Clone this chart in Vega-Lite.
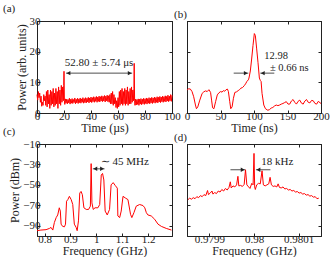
{
"$schema": "https://vega.github.io/schema/vega-lite/v6.json",
"padding": {"left": 2, "top": 2, "right": 0, "bottom": 0},
"config": {
 "font": "Liberation Serif",
 "view": {"stroke": "#222", "strokeWidth": 1},
 "axis": {"domainColor": "#222", "tickColor": "#222", "tickSize": -3, "labelFont": "Liberation Serif", "titleFont": "Liberation Serif", "labelFontSize": 11, "labelColor": "#222", "titleFontSize": 12, "titleFontWeight": "normal", "titleColor": "#222", "grid": false, "labelFlush": false, "labelOverlap": false, "titlePadding": 1},
 "axisX": {"labelPadding": 0},
 "axisY": {"labelPadding": 0, "titlePadding": 1},
 "title": {"font": "Liberation Serif", "fontSize": 11, "fontWeight": "normal", "anchor": "start", "frame": "group", "offset": 1, "color": "#222"},
 "text": {"font": "Liberation Serif", "color": "#222", "fontSize": 11}
},
"datasets": {
 "a": [
{"t":0,"v":6},{"t":0.5,"v":4.2},{"t":1,"v":7},{"t":1.5,"v":5},{"t":2,"v":6.5},{"t":2.5,"v":3.5},{"t":3,"v":5.5},{"t":3.5,"v":2.2},{"t":4,"v":3.5},{"t":4.5,"v":2.5},{"t":5,"v":6},{"t":5.5,"v":4},{"t":6,"v":5.5},{"t":6.5,"v":2.5},{"t":7,"v":7},{"t":7.5,"v":2},{"t":8,"v":7.5},{"t":8.5,"v":3},{"t":9,"v":6},{"t":9.5,"v":1.5},{"t":10,"v":7.5},{"t":10.5,"v":2.5},{"t":11,"v":7},{"t":11.5,"v":3},{"t":12,"v":8},{"t":12.5,"v":2},{"t":13,"v":6.5},{"t":13.5,"v":2.5},{"t":14,"v":8},{"t":14.5,"v":3},{"t":15,"v":7},{"t":15.5,"v":1.5},{"t":16,"v":8.5},{"t":16.5,"v":3},{"t":17,"v":7.5},{"t":17.5,"v":2.5},{"t":18,"v":9},{"t":18.5,"v":3.5},{"t":19,"v":8.5},{"t":19.5,"v":4},{"t":19.8,"v":9},{"t":20,"v":13.6},{"t":20.3,"v":4},{"t":20.6,"v":2.8},{"t":21,"v":4.6},{"t":21.5,"v":3.2},{"t":22,"v":4.5},{"t":22.5,"v":3},{"t":23,"v":4.4},{"t":23.5,"v":3.3},{"t":24,"v":4.8},{"t":24.5,"v":2.9},{"t":25,"v":4.5},{"t":25.5,"v":3.2},{"t":26,"v":4.7},{"t":26.5,"v":3.1},{"t":27,"v":4.4},{"t":27.5,"v":3.4},{"t":28,"v":4.9},{"t":28.5,"v":3},{"t":29,"v":4.5},{"t":29.5,"v":3.3},{"t":30,"v":4.8},{"t":30.5,"v":3.1},{"t":31,"v":4.6},{"t":31.5,"v":3.4},{"t":32,"v":4.9},{"t":32.5,"v":3.2},{"t":33,"v":4.6},{"t":33.5,"v":3.5},{"t":34,"v":5},{"t":34.5,"v":3.2},{"t":35,"v":4.7},{"t":35.5,"v":3.4},{"t":36,"v":5},{"t":36.5,"v":3.3},{"t":37,"v":4.8},{"t":37.5,"v":3.6},{"t":38,"v":5.1},{"t":38.5,"v":3.3},{"t":39,"v":4.9},{"t":39.5,"v":3.6},{"t":40,"v":5.2},{"t":40.5,"v":3.4},{"t":41,"v":5},{"t":41.5,"v":3.7},{"t":42,"v":5.3},{"t":42.5,"v":3.5},{"t":43,"v":5.1},{"t":43.5,"v":3.8},{"t":44,"v":5.4},{"t":44.5,"v":3.5},{"t":45,"v":5.2},{"t":45.5,"v":3.8},{"t":46,"v":5.5},{"t":46.5,"v":3.6},{"t":47,"v":5.3},{"t":47.5,"v":3.9},{"t":48,"v":5.6},{"t":48.5,"v":3.7},{"t":49,"v":5.4},{"t":49.5,"v":3.9},{"t":50,"v":5.7},{"t":50.5,"v":3.6},{"t":51,"v":5.5},{"t":51.5,"v":4},{"t":52,"v":5.8},{"t":52.5,"v":3.7},{"t":53,"v":5.6},{"t":53.5,"v":3.5},{"t":54,"v":6},{"t":54.5,"v":3},{"t":55,"v":6.5},{"t":55.5,"v":3},{"t":56,"v":7},{"t":56.5,"v":2.5},{"t":57,"v":6},{"t":57.5,"v":3},{"t":58,"v":5},{"t":58.5,"v":1.8},{"t":59,"v":4},{"t":59.5,"v":1.5},{"t":60,"v":5},{"t":60.5,"v":2},{"t":61,"v":7},{"t":61.5,"v":2.5},{"t":62,"v":7.5},{"t":62.5,"v":3},{"t":63,"v":8},{"t":63.5,"v":2.5},{"t":64,"v":7},{"t":64.5,"v":3},{"t":65,"v":8},{"t":65.5,"v":2.5},{"t":66,"v":7.5},{"t":66.5,"v":3},{"t":67,"v":8.5},{"t":67.5,"v":2.5},{"t":68,"v":7},{"t":68.5,"v":3},{"t":69,"v":8},{"t":69.5,"v":3},{"t":70,"v":8.5},{"t":70.5,"v":3.5},{"t":71,"v":7.5},{"t":71.5,"v":4},{"t":71.8,"v":8},{"t":72,"v":16.2},{"t":72.3,"v":4},{"t":72.6,"v":2.5},{"t":73,"v":4.5},{"t":73.5,"v":2.6},{"t":74,"v":4.4},{"t":74.5,"v":2.8},{"t":75,"v":4.6},{"t":75.5,"v":2.5},{"t":76,"v":4.5},{"t":76.5,"v":2.9},{"t":77,"v":4.7},{"t":77.5,"v":2.7},{"t":78,"v":4.5},{"t":78.5,"v":3},{"t":79,"v":4.8},{"t":79.5,"v":2.8},{"t":80,"v":4.6},{"t":80.5,"v":3.1},{"t":81,"v":4.9},{"t":81.5,"v":2.9},{"t":82,"v":4.7},{"t":82.5,"v":3.2},{"t":83,"v":5},{"t":83.5,"v":3},{"t":84,"v":4.8},{"t":84.5,"v":3.3},{"t":85,"v":5.1},{"t":85.5,"v":3.1},{"t":86,"v":4.9},{"t":86.5,"v":3.4},{"t":87,"v":5.2},{"t":87.5,"v":3.2},{"t":88,"v":5},{"t":88.5,"v":3.5},{"t":89,"v":5.3},{"t":89.5,"v":3.3},{"t":90,"v":5.1},{"t":90.5,"v":3.6},{"t":91,"v":5.4},{"t":91.5,"v":3.4},{"t":92,"v":5.2},{"t":92.5,"v":3.7},{"t":93,"v":5.5},{"t":93.5,"v":3.5},{"t":94,"v":5.3},{"t":94.5,"v":3.8},{"t":95,"v":5.6},{"t":95.5,"v":3.6},{"t":96,"v":5.4},{"t":96.5,"v":3.9},{"t":97,"v":5.8},{"t":97.5,"v":3.7},{"t":98,"v":5.5},{"t":98.5,"v":4},{"t":99,"v":6},{"t":99.5,"v":3.8},{"t":100,"v":5.8}
 ],
 "b": [
{"t":0,"v":7.5},{"t":2.5,"v":7.9},{"t":5,"v":7.8},{"t":7.5,"v":7},{"t":10,"v":5.3},{"t":12.6,"v":2.6},{"t":14.1,"v":1.4},{"t":16.1,"v":2},{"t":19.1,"v":4.2},{"t":22.6,"v":6.4},{"t":25.1,"v":6.9},{"t":27.6,"v":7.2},{"t":30.2,"v":7},{"t":32.7,"v":7.6},{"t":35.2,"v":6.7},{"t":36.7,"v":4.2},{"t":38.2,"v":1.7},{"t":40.2,"v":1.4},{"t":42.7,"v":3.7},{"t":45.2,"v":5.9},{"t":47.7,"v":6.6},{"t":50.3,"v":7},{"t":52.3,"v":6.8},{"t":54.3,"v":7.3},{"t":56.3,"v":7.1},{"t":58.3,"v":7.6},{"t":60.3,"v":7.8},{"t":61.8,"v":7},{"t":63.8,"v":3.7},{"t":65.3,"v":1.4},{"t":67.3,"v":2},{"t":69.3,"v":4.8},{"t":71.4,"v":6.7},{"t":73.9,"v":6.9},{"t":76.4,"v":7.3},{"t":78.4,"v":7.6},{"t":80.4,"v":8.1},{"t":82.9,"v":8.3},{"t":85.4,"v":8.9},{"t":87.4,"v":9.5},{"t":89.4,"v":10.3},{"t":91.5,"v":10.8},{"t":92.5,"v":11.4},{"t":94.5,"v":13.7},{"t":96.5,"v":17.6},{"t":98.5,"v":22},{"t":100.5,"v":25.9},{"t":102,"v":25.3},{"t":104,"v":20.9},{"t":106,"v":16.4},{"t":108,"v":11.4},{"t":109.5,"v":10.6},{"t":110.6,"v":10.3},{"t":112,"v":6.4},{"t":114.6,"v":2.6},{"t":117.1,"v":1.4},{"t":120.6,"v":0.9},{"t":123.1,"v":1.1},{"t":125.6,"v":1.6},{"t":128.1,"v":1.8},{"t":130.7,"v":2.3},{"t":133.2,"v":2.6},{"t":135.7,"v":2.4},{"t":138.2,"v":2.6},{"t":140.7,"v":2.9},{"t":143.2,"v":3.1},{"t":145.7,"v":3.4},{"t":148.2,"v":3.7},{"t":150.8,"v":2.9},{"t":153.3,"v":2.9},{"t":155.8,"v":3.9},{"t":158.3,"v":4.4},{"t":160.8,"v":3.5},{"t":163.3,"v":2.9},{"t":165.8,"v":3.8},{"t":168.3,"v":4.2},{"t":170.9,"v":3.2},{"t":173.4,"v":2.9},{"t":175.9,"v":3.9},{"t":178.4,"v":4.4},{"t":180.9,"v":3.5},{"t":183.4,"v":3.3},{"t":185.9,"v":4.1},{"t":188.4,"v":4},{"t":191,"v":3.1},{"t":193.5,"v":2.9},{"t":196,"v":3.8},{"t":200,"v":3.1}
 ],
 "c": [
{"f":0.771,"p":-94.8},{"f":0.786,"p":-94.2},{"f":0.806,"p":-93.8},{"f":0.819,"p":-92.6},{"f":0.825,"p":-91.6},{"f":0.832,"p":-94.2},{"f":0.838,"p":-86.8},{"f":0.845,"p":-82},{"f":0.851,"p":-79.4},{"f":0.857,"p":-72.4},{"f":0.861,"p":-75.6},{"f":0.864,"p":-88.4},{"f":0.87,"p":-90.6},{"f":0.877,"p":-91},{"f":0.881,"p":-88.4},{"f":0.885,"p":-66},{"f":0.89,"p":-64.4},{"f":0.896,"p":-61.2},{"f":0.903,"p":-64.4},{"f":0.909,"p":-69.2},{"f":0.915,"p":-88.4},{"f":0.922,"p":-91.6},{"f":0.926,"p":-94.8},{"f":0.931,"p":-85.2},{"f":0.936,"p":-58},{"f":0.941,"p":-56.4},{"f":0.946,"p":-59.6},{"f":0.952,"p":-72.4},{"f":0.961,"p":-74},{"f":0.97,"p":-74},{"f":0.977,"p":-70.8},{"f":0.98,"p":-29.2},{"f":0.983,"p":-67.6},{"f":0.988,"p":-74},{"f":0.995,"p":-72.4},{"f":1.006,"p":-72.4},{"f":1.013,"p":-69.2},{"f":1.019,"p":-40.4},{"f":1.024,"p":-38.8},{"f":1.029,"p":-45.2},{"f":1.034,"p":-75.6},{"f":1.042,"p":-79.4},{"f":1.051,"p":-74},{"f":1.057,"p":-50},{"f":1.065,"p":-47.8},{"f":1.073,"p":-50.6},{"f":1.081,"p":-53.2},{"f":1.083,"p":-80.4},{"f":1.09,"p":-82},{"f":1.096,"p":-75.6},{"f":1.103,"p":-61.2},{"f":1.112,"p":-62.8},{"f":1.122,"p":-64.4},{"f":1.132,"p":-78.8},{"f":1.137,"p":-82},{"f":1.145,"p":-77.2},{"f":1.154,"p":-70.8},{"f":1.167,"p":-69.2},{"f":1.18,"p":-70.2},{"f":1.187,"p":-72.4},{"f":1.193,"p":-77.2},{"f":1.199,"p":-79.4},{"f":1.212,"p":-80.4},{"f":1.225,"p":-83.6},{"f":1.238,"p":-88.4},{"f":1.251,"p":-90.6},{"f":1.27,"p":-92.6},{"f":1.29,"p":-94.2}
 ],
 "d": [
{"f":0.979852,"p":-64.5},{"f":0.979856,"p":-63},{"f":0.97986,"p":-64},{"f":0.979864,"p":-62.5},{"f":0.979868,"p":-63.5},{"f":0.979872,"p":-61.5},{"f":0.979876,"p":-62.5},{"f":0.97988,"p":-60.5},{"f":0.979884,"p":-61.5},{"f":0.979888,"p":-59.5},{"f":0.979892,"p":-60.5},{"f":0.979896,"p":-55.5},{"f":0.979898,"p":-59.5},{"f":0.979902,"p":-58},{"f":0.979906,"p":-56},{"f":0.979908,"p":-59},{"f":0.979912,"p":-57.5},{"f":0.979916,"p":-58.5},{"f":0.97992,"p":-56},{"f":0.979924,"p":-57},{"f":0.979928,"p":-54.5},{"f":0.979932,"p":-56},{"f":0.979936,"p":-53.5},{"f":0.97994,"p":-55},{"f":0.979944,"p":-52.5},{"f":0.979947,"p":-47},{"f":0.979949,"p":-53},{"f":0.979953,"p":-51},{"f":0.979957,"p":-52},{"f":0.979961,"p":-50},{"f":0.979964,"p":-41.6},{"f":0.979966,"p":-51},{"f":0.97997,"p":-50.5},{"f":0.979974,"p":-51.5},{"f":0.979978,"p":-49.5},{"f":0.979981,"p":-35.2},{"f":0.979984,"p":-50},{"f":0.979988,"p":-52},{"f":0.979991,"p":-53.5},{"f":0.979995,"p":-48.5},{"f":0.979998,"p":-50},{"f":0.98,"p":-19.2},{"f":0.9800015,"p":-52},{"f":0.980003,"p":-54.5},{"f":0.980006,"p":-50},{"f":0.98001,"p":-48.5},{"f":0.980014,"p":-49},{"f":0.980018,"p":-36.2},{"f":0.980021,"p":-50},{"f":0.980025,"p":-51},{"f":0.980029,"p":-50},{"f":0.980033,"p":-49},{"f":0.980036,"p":-42.6},{"f":0.980039,"p":-50},{"f":0.980043,"p":-51.5},{"f":0.980047,"p":-51},{"f":0.980051,"p":-52},{"f":0.980054,"p":-49},{"f":0.980057,"p":-52.5},{"f":0.980061,"p":-53},{"f":0.980065,"p":-52},{"f":0.980069,"p":-54},{"f":0.980073,"p":-53.5},{"f":0.980077,"p":-55},{"f":0.980081,"p":-54.5},{"f":0.980085,"p":-56},{"f":0.980089,"p":-55.5},{"f":0.980093,"p":-57},{"f":0.980097,"p":-56.5},{"f":0.980101,"p":-58},{"f":0.980105,"p":-57.5},{"f":0.980109,"p":-59},{"f":0.980113,"p":-58.5},{"f":0.980117,"p":-60},{"f":0.980121,"p":-59.5},{"f":0.980125,"p":-61},{"f":0.980129,"p":-60.5},{"f":0.980133,"p":-62},{"f":0.980137,"p":-61.5},{"f":0.980141,"p":-63.5},{"f":0.980145,"p":-63}
 ]
},
"columns": 2,
"spacing": {"row": 31, "column": 15},
"bounds": "flush",
"concat": [
 {
  "width": 135, "height": 92,
  "title": {"text": "(a)", "dx": -34},
  "layer": [
   {"data": {"name": "a"}, "mark": {"type": "line", "color": "#ff0000", "strokeWidth": 1},
    "encoding": {
     "x": {"field": "t", "type": "quantitative", "scale": {"domain": [0, 100], "nice": false}, "axis": {"title": "Time (µs)", "values": [0, 20, 40, 60, 80, 100]}},
     "y": {"field": "v", "type": "quantitative", "scale": {"domain": [0, 30], "nice": false, "zero": false}, "axis": {"title": "Power (arb. units)", "values": [0, 10, 20, 30]}}}},
   {"data": {"name": "a"}, "mark": {"type": "line", "opacity": 0},
    "encoding": {
     "x": {"field": "t", "type": "quantitative", "axis": {"orient": "top", "labels": false, "title": null, "values": [0, 20, 40, 60, 80, 100]}},
     "y": {"field": "v", "type": "quantitative", "axis": {"orient": "right", "labels": false, "title": null, "values": [0, 10, 20, 30]}}}},
   {"data": {"values": [{"x1": 21.5, "x2": 70.5, "y": 13}]}, "mark": {"type": "rule", "color": "#222", "strokeWidth": 0.8},
    "encoding": {"x": {"field": "x1", "type": "quantitative", "axis": null}, "x2": {"field": "x2"}, "y": {"field": "y", "type": "quantitative", "axis": null}}},
   {"data": {"values": [{"x": 23.3, "y": 13, "s": "triangle-left"}, {"x": 68.7, "y": 13, "s": "triangle-right"}]}, "mark": {"type": "point", "filled": true, "color": "#222", "size": 20, "opacity": 1},
    "encoding": {"x": {"field": "x", "type": "quantitative", "axis": null}, "y": {"field": "y", "type": "quantitative", "axis": null}, "shape": {"field": "s", "type": "nominal", "scale": null}}},
   {"data": {"values": [{"x": 46, "y": 16.3, "label": "52.80 ± 5.74 μs"}]}, "mark": {"type": "text"},
    "encoding": {"x": {"field": "x", "type": "quantitative", "axis": null}, "y": {"field": "y", "type": "quantitative", "axis": null}, "text": {"field": "label"}}}
  ],
  "resolve": {"axis": {"x": "independent", "y": "independent"}}
 },
 {
  "width": 134, "height": 92,
  "title": {"text": "(b)", "dx": -13},
  "layer": [
   {"data": {"name": "b"}, "mark": {"type": "line", "color": "#ff0000", "strokeWidth": 1},
    "encoding": {
     "x": {"field": "t", "type": "quantitative", "scale": {"domain": [0, 200], "nice": false}, "axis": {"title": "Time (ns)", "values": [0, 50, 100, 150, 200]}},
     "y": {"field": "v", "type": "quantitative", "scale": {"domain": [0, 30], "nice": false, "zero": false}, "axis": {"title": null, "labels": false, "values": [0, 10, 20, 30]}}}},
   {"data": {"name": "b"}, "mark": {"type": "line", "opacity": 0},
    "encoding": {
     "x": {"field": "t", "type": "quantitative", "axis": {"orient": "top", "labels": false, "title": null, "values": [0, 50, 100, 150, 200]}},
     "y": {"field": "v", "type": "quantitative", "axis": {"orient": "right", "labels": false, "title": null, "values": [0, 10, 20, 30]}}}},
   {"data": {"values": [{"x1": 69.7, "x2": 91.5, "y": 13}, {"x1": 109.4, "x2": 130.3, "y": 13}]}, "mark": {"type": "rule", "color": "#222", "strokeWidth": 0.8},
    "encoding": {"x": {"field": "x1", "type": "quantitative", "axis": null}, "x2": {"field": "x2"}, "y": {"field": "y", "type": "quantitative", "axis": null}}},
   {"data": {"values": [{"x": 87.8, "y": 13, "s": "triangle-right"}, {"x": 113.1, "y": 13, "s": "triangle-left"}]}, "mark": {"type": "point", "filled": true, "color": "#222", "size": 20, "opacity": 1},
    "encoding": {"x": {"field": "x", "type": "quantitative", "axis": null}, "y": {"field": "y", "type": "quantitative", "axis": null}, "shape": {"field": "s", "type": "nominal", "scale": null}}},
   {"data": {"values": [{"x": 133, "y": 18.6, "label": "12.98"}, {"x": 152.7, "y": 14.6, "label": "± 0.66 ns"}]}, "mark": {"type": "text", "fontSize": 10.5},
    "encoding": {"x": {"field": "x", "type": "quantitative", "axis": null}, "y": {"field": "y", "type": "quantitative", "axis": null}, "text": {"field": "label"}}}
  ],
  "resolve": {"axis": {"x": "independent", "y": "independent"}}
 },
 {
  "width": 135, "height": 92,
  "title": {"text": "(c)", "dx": -34},
  "layer": [
   {"data": {"name": "c"}, "mark": {"type": "line", "color": "#ff0000", "strokeWidth": 1},
    "encoding": {
     "x": {"field": "f", "type": "quantitative", "scale": {"domain": [0.771, 1.292], "nice": false, "zero": false}, "axis": {"title": "Frequency (GHz)", "values": [0.8, 0.9, 1, 1.1, 1.2], "format": "~g"}},
     "y": {"field": "p", "type": "quantitative", "scale": {"domain": [-100, -10], "nice": false, "zero": false}, "axis": {"title": "Power (dBm)", "values": [-10, -30, -50, -70, -90]}}}},
   {"data": {"name": "c"}, "mark": {"type": "line", "opacity": 0},
    "encoding": {
     "x": {"field": "f", "type": "quantitative", "axis": {"orient": "top", "labels": false, "title": null, "values": [0.8, 0.9, 1, 1.1, 1.2]}},
     "y": {"field": "p", "type": "quantitative", "axis": {"orient": "right", "labels": false, "title": null, "values": [-10, -30, -50, -70, -90]}}}},
   {"data": {"values": [{"x1": 0.9865, "x2": 1.0316, "y": -34.3}]}, "mark": {"type": "rule", "color": "#222", "strokeWidth": 0.8},
    "encoding": {"x": {"field": "x1", "type": "quantitative", "axis": null}, "x2": {"field": "x2"}, "y": {"field": "y", "type": "quantitative", "axis": null}}},
   {"data": {"values": [{"x": 0.996, "y": -34.3, "s": "triangle-left"}, {"x": 1.022, "y": -34.3, "s": "triangle-right"}]}, "mark": {"type": "point", "filled": true, "color": "#222", "size": 20, "opacity": 1},
    "encoding": {"x": {"field": "x", "type": "quantitative", "axis": null}, "y": {"field": "y", "type": "quantitative", "axis": null}, "shape": {"field": "s", "type": "nominal", "scale": null}}},
   {"data": {"values": [{"x": 1.11, "y": -27.2, "label": "∼ 45 MHz"}]}, "mark": {"type": "text"},
    "encoding": {"x": {"field": "x", "type": "quantitative", "axis": null}, "y": {"field": "y", "type": "quantitative", "axis": null}, "text": {"field": "label"}}}
  ],
  "resolve": {"axis": {"x": "independent", "y": "independent"}}
 },
 {
  "width": 134, "height": 92,
  "title": {"text": "(d)", "dx": -13},
  "layer": [
   {"data": {"name": "d"}, "mark": {"type": "line", "color": "#ff0000", "strokeWidth": 1},
    "encoding": {
     "x": {"field": "f", "type": "quantitative", "scale": {"domain": [0.97985, 0.98015], "nice": false, "zero": false}, "axis": {"title": "Frequency (GHz)", "values": [0.9799, 0.98, 0.9801], "format": "~g"}},
     "y": {"field": "p", "type": "quantitative", "scale": {"domain": [-100, -10], "nice": false, "zero": false}, "axis": {"title": null, "labels": false, "values": [-10, -30, -50, -70, -90]}}}},
   {"data": {"name": "d"}, "mark": {"type": "line", "opacity": 0},
    "encoding": {
     "x": {"field": "f", "type": "quantitative", "axis": {"orient": "top", "labels": false, "title": null, "values": [0.9799, 0.98, 0.9801]}},
     "y": {"field": "p", "type": "quantitative", "axis": {"orient": "right", "labels": false, "title": null, "values": [-10, -30, -50, -70, -90]}}}},
   {"data": {"values": [{"x1": 0.9799473, "x2": 0.9799802, "y": -35.2}, {"x1": 0.9800044, "x2": 0.9800367, "y": -35.2}]}, "mark": {"type": "rule", "color": "#222", "strokeWidth": 0.8},
    "encoding": {"x": {"field": "x1", "type": "quantitative", "axis": null}, "x2": {"field": "x2"}, "y": {"field": "y", "type": "quantitative", "axis": null}}},
   {"data": {"values": [{"x": 0.9799747, "y": -35.2, "s": "triangle-right"}, {"x": 0.9800099, "y": -35.2, "s": "triangle-left"}]}, "mark": {"type": "point", "filled": true, "color": "#222", "size": 20, "opacity": 1},
    "encoding": {"x": {"field": "x", "type": "quantitative", "axis": null}, "y": {"field": "y", "type": "quantitative", "axis": null}, "shape": {"field": "s", "type": "nominal", "scale": null}}},
   {"data": {"values": [{"x": 0.9800523, "y": -27.2, "label": "18 kHz"}]}, "mark": {"type": "text"},
    "encoding": {"x": {"field": "x", "type": "quantitative", "axis": null}, "y": {"field": "y", "type": "quantitative", "axis": null}, "text": {"field": "label"}}}
  ],
  "resolve": {"axis": {"x": "independent", "y": "independent"}}
 }
]
}
